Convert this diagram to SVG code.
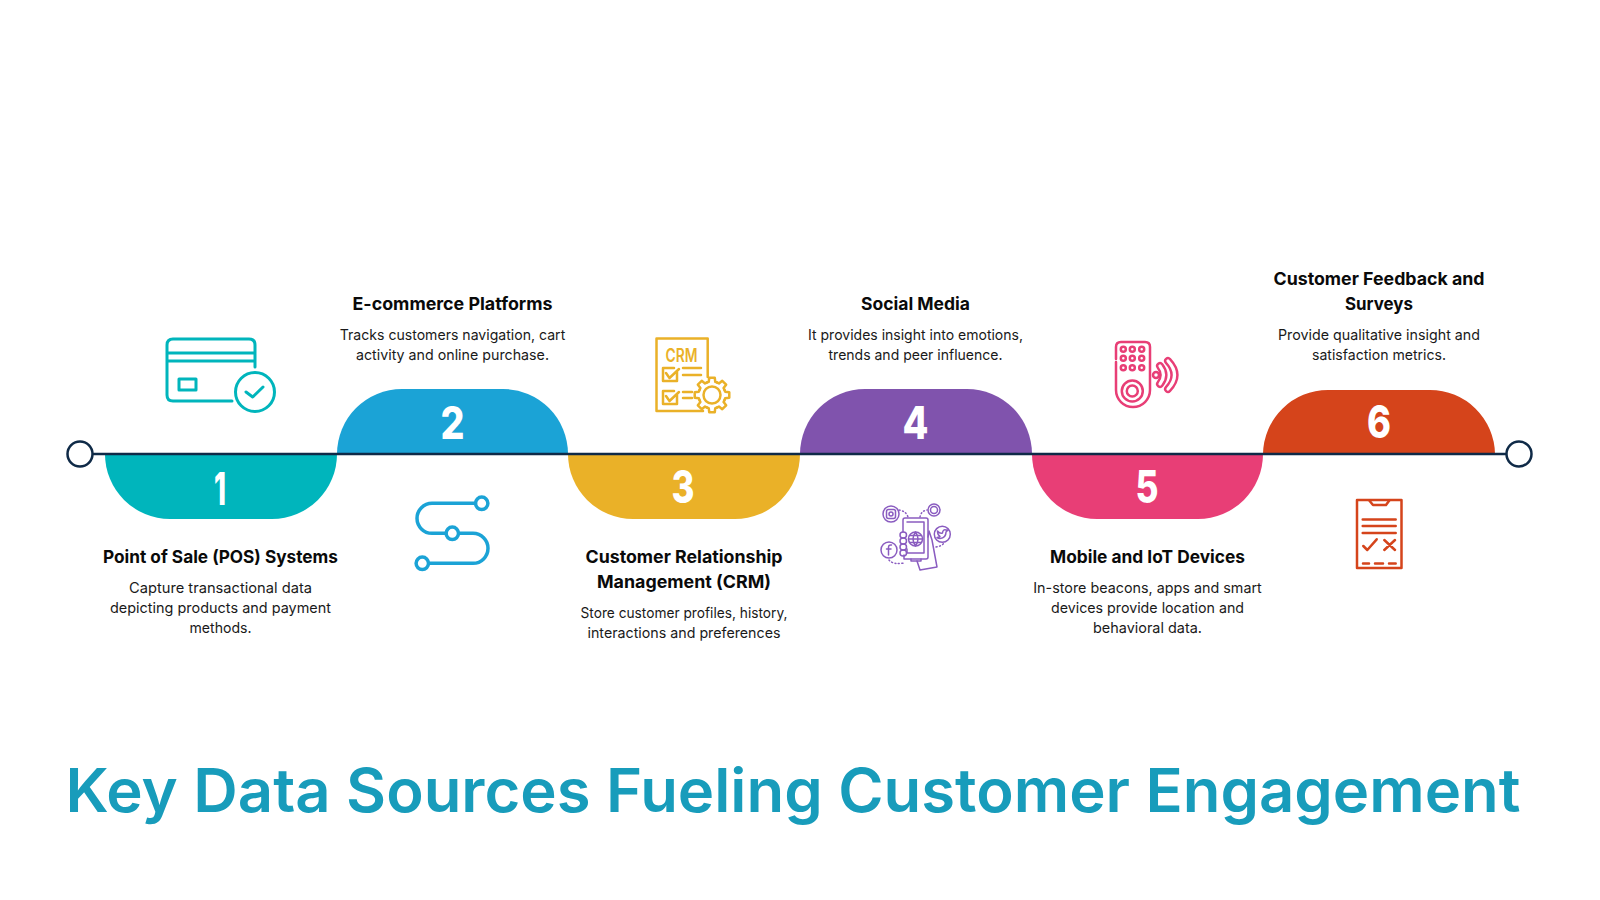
<svg xmlns="http://www.w3.org/2000/svg" xmlns:xlink="http://www.w3.org/1999/xlink" width="1600" height="900" viewBox="0 0 1600 900">
<style>
text{font-family:"Inter","Noto Sans","Liberation Sans",sans-serif;text-anchor:middle}
.h{font-size:17.5px;font-weight:700;fill:#0a0a0a}
.d{font-size:14.5px;font-weight:400;fill:#1a1a1a}
.n{font-size:45px;font-weight:800;fill:#fff}
.t{font-size:60px;font-weight:600;fill:#189cbb}
.ic{fill:none;stroke-linecap:round;stroke-linejoin:round}
</style>
<defs><path id="gt" d="M12.47-5.17L13.1-3.27L17.28-2.74L17.28 2.74L13.1 3.27L12.47 5.17"/></defs>
<rect width="1600" height="900" fill="#fff"/>
<g id="seg-1"><path d="M105 454A65 65 0 0 0 170 519H272A65 65 0 0 0 337 454Z" fill="#00b5bc"/><text class="n" x="220" y="505" textLength="12" lengthAdjust="spacingAndGlyphs">1</text></g>
<g id="seg-2"><path d="M337 454A65 65 0 0 1 402 389H503A65 65 0 0 1 568 454Z" fill="#1ba3d6"/><text class="n" x="452.500" y="439" textLength="24" lengthAdjust="spacingAndGlyphs">2</text></g>
<g id="seg-3"><path d="M568 454A65 65 0 0 0 633 519H735A65 65 0 0 0 800 454Z" fill="#eab128"/><text class="n" x="683" y="503" textLength="23" lengthAdjust="spacingAndGlyphs">3</text></g>
<g id="seg-4"><path d="M800 454A65 65 0 0 1 865 389H967A65 65 0 0 1 1032 454Z" fill="#8053ad"/><text class="n" x="915.500" y="439" textLength="26" lengthAdjust="spacingAndGlyphs">4</text></g>
<g id="seg-5"><path d="M1032 454A65 65 0 0 0 1097 519H1198A65 65 0 0 0 1263 454Z" fill="#e83e76"/><text class="n" x="1147" y="503" textLength="23" lengthAdjust="spacingAndGlyphs">5</text></g>
<g id="seg-6"><path d="M1263 454A65 65 0 0 1 1328 390H1430A65 65 0 0 1 1495 454Z" fill="#d5441b"/><text class="n" x="1379" y="438" textLength="24" lengthAdjust="spacingAndGlyphs">6</text></g>
<g id="connectors"><line x1="92" y1="454" x2="1506" y2="454" stroke="#0f2a47" stroke-width="2.500"/>
<circle cx="80" cy="454" r="12.500" fill="#fff" stroke="#0f2a47" stroke-width="2.500"/>
<circle cx="1519" cy="454" r="12.500" fill="#fff" stroke="#0f2a47" stroke-width="2.500"/></g>
<g id="label-1">
<text class="h" x="220.500" y="563" textLength="235" lengthAdjust="spacingAndGlyphs">Point of Sale (POS) Systems</text>
<text class="d" x="220.500" y="593" textLength="183" lengthAdjust="spacingAndGlyphs">Capture transactional data</text>
<text class="d" x="220.500" y="613" textLength="221" lengthAdjust="spacingAndGlyphs">depicting products and payment</text>
<text class="d" x="220.500" y="633" textLength="62" lengthAdjust="spacingAndGlyphs">methods.</text></g>
<g id="label-2">
<text class="h" x="452.500" y="309.500" textLength="200" lengthAdjust="spacingAndGlyphs">E-commerce Platforms</text>
<text class="d" x="452.500" y="339.500" textLength="225.500" lengthAdjust="spacingAndGlyphs">Tracks customers navigation, cart</text>
<text class="d" x="452.500" y="359.500" textLength="193" lengthAdjust="spacingAndGlyphs">activity and online purchase.</text></g>
<g id="label-3">
<text class="h" x="684" y="563" textLength="197" lengthAdjust="spacingAndGlyphs">Customer Relationship</text>
<text class="h" x="684" y="588" textLength="174" lengthAdjust="spacingAndGlyphs">Management (CRM)</text>
<text class="d" x="684" y="618" textLength="207" lengthAdjust="spacingAndGlyphs">Store customer profiles, history,</text>
<text class="d" x="684" y="638" textLength="193" lengthAdjust="spacingAndGlyphs">interactions and preferences</text></g>
<g id="label-4">
<text class="h" x="915.500" y="309.500" textLength="109" lengthAdjust="spacingAndGlyphs">Social Media</text>
<text class="d" x="915.500" y="339.500" textLength="215" lengthAdjust="spacingAndGlyphs">It provides insight into emotions,</text>
<text class="d" x="915.500" y="359.500" textLength="174" lengthAdjust="spacingAndGlyphs">trends and peer influence.</text></g>
<g id="label-5">
<text class="h" x="1147.500" y="563" textLength="195" lengthAdjust="spacingAndGlyphs">Mobile and IoT Devices</text>
<text class="d" x="1147.500" y="593" textLength="228.500" lengthAdjust="spacingAndGlyphs">In-store beacons, apps and smart</text>
<text class="d" x="1147.500" y="613" textLength="193" lengthAdjust="spacingAndGlyphs">devices provide location and</text>
<text class="d" x="1147.500" y="633" textLength="109" lengthAdjust="spacingAndGlyphs">behavioral data.</text></g>
<g id="label-6">
<text class="h" x="1379" y="285" textLength="211" lengthAdjust="spacingAndGlyphs">Customer Feedback and</text>
<text class="h" x="1379" y="310" textLength="68" lengthAdjust="spacingAndGlyphs">Surveys</text>
<text class="d" x="1379" y="340" textLength="202" lengthAdjust="spacingAndGlyphs">Provide qualitative insight and</text>
<text class="d" x="1379" y="360" textLength="134" lengthAdjust="spacingAndGlyphs">satisfaction metrics.</text></g>
<g id="icon-1" class="ic" stroke="#00b5bc" stroke-width="3">
<path d="M255 367V345Q255 339 249 339H173Q167 339 167 345V395Q167 401 173 401H232M167 353H255M167 361H255"/>
<rect x="179" y="379" width="17" height="11"/><circle cx="255" cy="392" r="19.500"/><path d="M246 392L252.700 397L263 387"/></g>
<g id="icon-2" class="ic" stroke="#1ba3d6" stroke-width="3.500">
<path d="M475.500 503.300H432A15 15 0 0 0 432 533.300H446M459 533.300H473A15 15 0 0 1 473 563.300H429"/>
<circle cx="481.700" cy="503.300" r="6.200"/><circle cx="452.300" cy="533.300" r="6.200"/><circle cx="422.300" cy="563.300" r="6.200"/></g>
<g id="icon-3" class="ic" stroke="#eab128" stroke-width="2.500">
<path d="M707.700 377V338.500H656.500V411H703"/>
<text x="681.500" y="361.500" font-size="19" font-weight="600" fill="#eab128" stroke="none" textLength="32" lengthAdjust="spacingAndGlyphs">CRM</text>
<path d="M677 372V381H663V368H674M666 373L669.500 378L679 369M677 395V404H663V391H674M666 396L669.500 401L679 392M683 368H701M683 375H701M683 392H692M683 398H692"/>
<g transform="translate(712 395)"><use xlink:href="#gt"/><use xlink:href="#gt" transform="rotate(45)"/><use xlink:href="#gt" transform="rotate(90)"/><use xlink:href="#gt" transform="rotate(135)"/><use xlink:href="#gt" transform="rotate(180)"/><use xlink:href="#gt" transform="rotate(225)"/><use xlink:href="#gt" transform="rotate(270)"/><use xlink:href="#gt" transform="rotate(315)"/><circle r="8.500"/></g></g>
<g id="icon-4" class="ic" stroke="#8a5cc0" stroke-width="1.500">
<path d="M903 532V520Q903 518 905 518H926Q928 518 928 520V557Q928 559 926 559H904V555"/><path d="M907 522H924V553H907V549M911 559V561H921V559"/>
<circle cx="915.500" cy="539" r="7"/><path d="M908.500 539H922.500M915.500 532Q910.500 539 915.500 546M915.500 532Q920.500 539 915.500 546M909.500 535.500H921.500M909.500 542.500H921.500"/>
<rect x="900" y="532" width="6.500" height="6" rx="3"/><rect x="900" y="538" width="6.500" height="6" rx="3"/><rect x="900" y="544" width="6.500" height="6" rx="3"/><rect x="900" y="550" width="6.500" height="6" rx="3"/>
<path d="M928 537L929 531L932 540L937 567L920 570L917 561"/>
<circle cx="891" cy="514" r="8"/><rect x="886.500" y="509.500" width="9" height="9" rx="2"/><circle cx="891" cy="514" r="2"/>
<circle cx="934" cy="510" r="6"/><circle cx="934" cy="510" r="3.500"/>
<circle cx="942.300" cy="534.300" r="8"/><path d="M937.500 531Q940 534 942.500 533Q943 529 946 530L948 530L946 532Q946 538 940 538.500Q938 538.500 937 537.500Q939 537.500 940 536.500Q937.500 535 937.500 531Z"/>
<circle cx="889" cy="550" r="8"/><path d="M891.500 545Q888.500 544.500 888.500 547.500V555M886.500 549H891"/>
<g stroke-dasharray="1 2.500"><path d="M899 510Q906 511 908 517M920 517Q921 511 927 510M936 547Q942 546 944 543M889 560Q893 565 904 563"/></g></g>
<g id="icon-5" class="ic" stroke="#e83e76" stroke-width="2.500">
<path d="M1116 359V347Q1116 342 1121 342H1145Q1150 342 1150 347V390A17 17 0 0 1 1116 390V362"/>
<g><circle cx="1123.300" cy="349.300" r="2.500"/><circle cx="1132.300" cy="349.300" r="2.500"/><circle cx="1141.700" cy="349.300" r="2.500"/><circle cx="1123.300" cy="358.300" r="2.500"/><circle cx="1132.300" cy="358.300" r="2.500"/><circle cx="1141.700" cy="358.300" r="2.500"/><circle cx="1123.300" cy="367.700" r="2.500"/><circle cx="1132.300" cy="367.700" r="2.500"/><circle cx="1141.700" cy="367.700" r="2.500"/></g>
<circle cx="1132.300" cy="391" r="10.500"/><circle cx="1132.300" cy="391" r="5.500"/><circle cx="1156" cy="375" r="3"/>
<path d="M1160 366Q1167 375 1160 384M1168 361Q1181 375 1168 389" stroke-width="8"/><path d="M1160 366Q1167 375 1160 384M1168 361Q1181 375 1168 389" stroke="#fff" stroke-width="3.200"/></g>
<g id="icon-6" class="ic" stroke="#d5441b" stroke-width="2.500">
<path d="M1357 500H1401.500V568H1357Z"/><path d="M1369.300 500.500L1373 505H1386L1389.300 500.500"/>
<path d="M1362.700 519.500H1395.700M1362.700 526H1395.700M1362.700 533H1395.700M1363.300 546L1367.300 550L1376.700 539.300M1384.300 540L1395 550M1395 540L1384.300 550M1363 563.500H1369M1375 563.500H1383M1389 563.500H1395.700"/></g>
<g id="title"><text class="t" x="793" y="811.500" textLength="1455" lengthAdjust="spacingAndGlyphs">Key Data Sources Fueling Customer Engagement</text></g>
</svg>
